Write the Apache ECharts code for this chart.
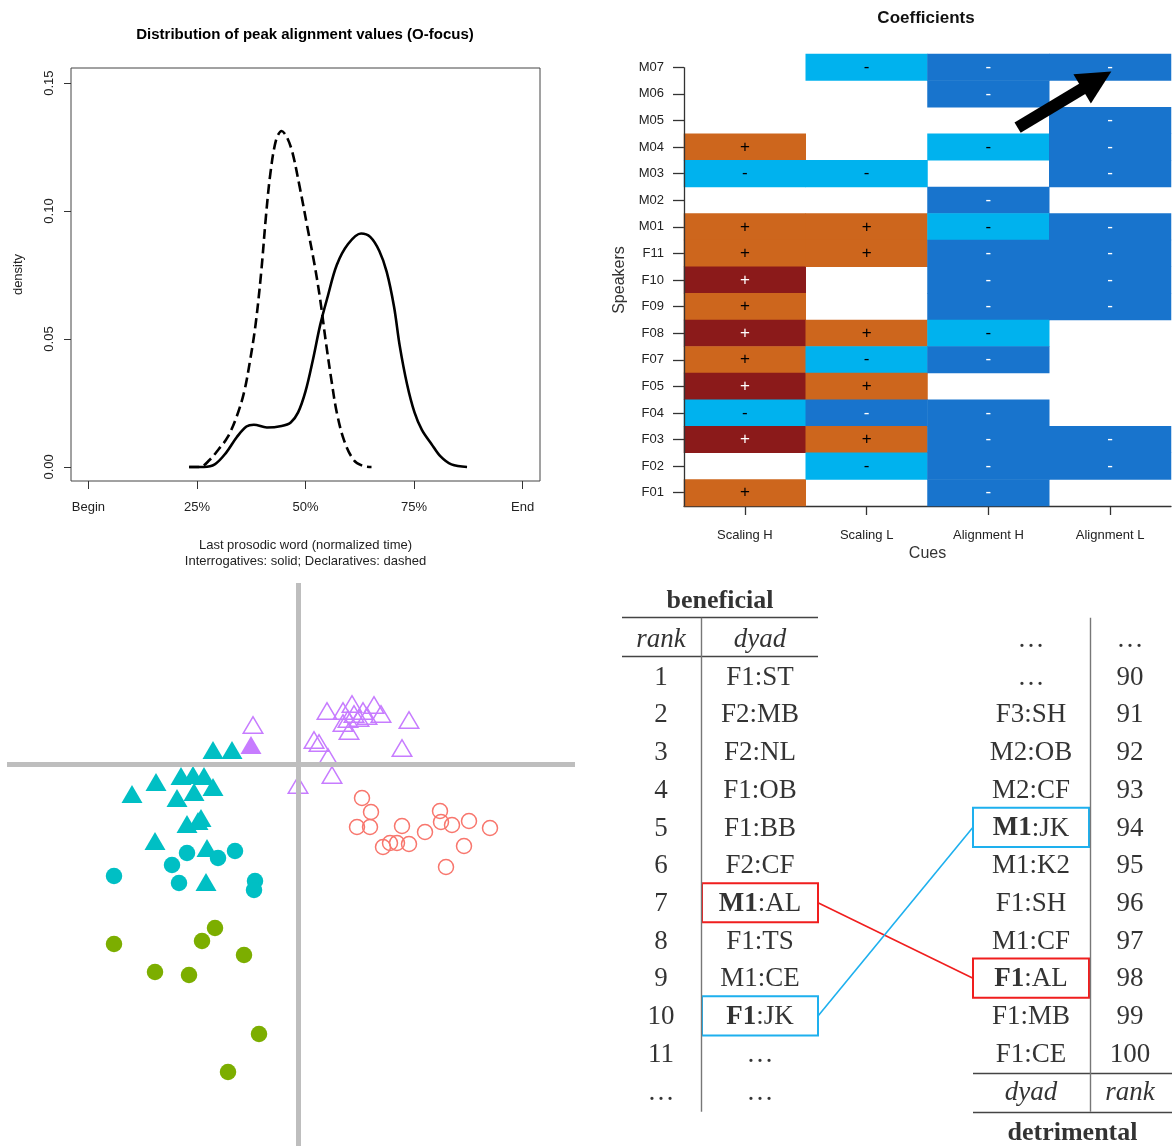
<!DOCTYPE html>
<html><head><meta charset="utf-8">
<script src="https://cdn.jsdelivr.net/npm/echarts@6/dist/echarts.min.js"></script>
<style>html,body{margin:0;padding:0;background:#fff}#c{width:1172px;height:1146px}</style>
</head><body><div id="c"></div>
<script>
// ================= DATA =================
// --- Panel A: density of peak alignment (x: % of last prosodic word, y: density)
const xTickValues = [0, 25, 50, 75, 100];
const xTickLabels = ['Begin', '25%', '50%', '75%', 'End'];
const yTickValues = [0, 0.05, 0.10, 0.15];
const interrogatives = [[23.2,0],[26.6,0],[29.1,0.001],[31.7,0.0055],[34.2,0.0117],[36.4,0.0158],[38.1,0.0165],[41.1,0.0154],[44.5,0.016],[46.6,0.0174],[48.3,0.0213],[50.0,0.0295],[51.7,0.0418],[53.4,0.0556],[55.1,0.0665],[57.2,0.0789],[59.8,0.0871],[62.8,0.0912],[64.9,0.0899],[67.0,0.0844],[68.7,0.0762],[70.4,0.0625],[71.7,0.0473],[73.4,0.0322],[75.1,0.0213],[76.8,0.0145],[79.0,0.009],[81.1,0.0041],[83.6,0.001],[87.2,0]];
const declaratives = [[23.2,0],[25.7,0],[27.9,0.0027],[30.0,0.0069],[32.1,0.0117],[34.2,0.0199],[35.9,0.0295],[37.2,0.0412],[38.5,0.0556],[39.8,0.0761],[40.9,0.0981],[41.9,0.1145],[43.2,0.1276],[44.5,0.1313],[45.7,0.1289],[47.0,0.1228],[48.7,0.1091],[50.4,0.094],[52.1,0.0789],[53.4,0.0652],[54.7,0.0487],[56.0,0.0336],[57.2,0.0213],[58.9,0.0103],[61.1,0.0027],[63.2,0.0004],[65.2,0]];

// --- Panel B: coefficient classes (-2 strong neg, -1 neg, 0 none, 1 pos, 2 strong pos)
const speakers = ['M07','M06','M05','M04','M03','M02','M01','F11','F10','F09','F08','F07','F05','F04','F03','F02','F01'];
const cues = ['Scaling H','Scaling L','Alignment H','Alignment L'];
const scalingH   = [0,0,0,1,-1,0,1,1,2,1,2,1,2,-1,2,0,1];
const scalingL   = [-1,0,0,0,-1,0,1,1,0,0,1,-1,1,-2,1,-1,0];
const alignmentH = [-2,-2,0,-1,0,-2,-1,-2,-2,-2,-1,-2,0,-2,-2,-2,-2];
const alignmentL = [-2,0,-2,-2,-2,0,-2,-2,-2,-2,0,0,0,0,-2,-2,0];
const arrowFromTo = [[2.24, 2.27], [2.89, 0.485]]; // (cue index, speaker index)

// --- Panel C: two-dimensional map (Dim1, Dim2)
const purpleOpenTri = [[-0.45,0.39],[0.00,-0.21],[0.29,0.53],[0.45,0.53],[0.54,0.60],[0.65,0.53],[0.76,0.59],[0.83,0.50],[0.45,0.41],[0.51,0.33],[0.56,0.50],[0.61,0.46],[0.69,0.48],[0.50,0.45],[1.11,0.44],[0.16,0.24],[0.21,0.21],[0.30,0.07],[1.04,0.16],[0.34,-0.11]];
const purpleFilledTri = [[-0.47,0.19]];
const tealTri = [[-0.85,0.14],[-0.66,0.14],[-1.17,-0.12],[-1.05,-0.11],[-0.94,-0.12],[-0.85,-0.23],[-1.42,-0.18],[-1.66,-0.30],[-1.21,-0.34],[-1.04,-0.28],[-1.11,-0.60],[-0.97,-0.54],[-1.00,-0.57],[-1.43,-0.77],[-0.91,-0.84],[-0.92,-1.18]];
const tealCircle = [[-1.11,-0.89],[-1.26,-1.01],[-0.80,-0.94],[-0.63,-0.87],[-1.84,-1.12],[-1.19,-1.19],[-0.43,-1.17],[-0.44,-1.26]];
const greenCircle = [[-0.83,-1.64],[-0.96,-1.77],[-1.84,-1.80],[-0.54,-1.91],[-1.43,-2.08],[-1.09,-2.11],[-0.39,-2.70],[-0.70,-3.08]];
const redOpenCircle = [[0.64,-0.34],[0.73,-0.48],[0.59,-0.63],[0.72,-0.63],[1.04,-0.62],[1.27,-0.68],[1.42,-0.47],[1.43,-0.58],[1.54,-0.61],[1.71,-0.57],[1.92,-0.64],[0.85,-0.83],[0.92,-0.79],[0.99,-0.79],[1.11,-0.80],[1.66,-0.82],[1.48,-1.03]];

// --- Panel D: ranked dyads
const benRanks = ['1','2','3','4','5','6','7','8','9','10','11','…'];
const benDyads = ['F1:ST','F2:MB','F2:NL','F1:OB','F1:BB','F2:CF','M1:AL','F1:TS','M1:CE','F1:JK','…','…'];
const detDyads = ['…','…','F3:SH','M2:OB','M2:CF','M1:JK','M1:K2','F1:SH','M1:CF','F1:AL','F1:MB','F1:CE'];
const detRanks = ['…','90','91','92','93','94','95','96','97','98','99','100'];
const links = [{from:'M1:AL', to:'F1:AL', color:'#F01E1E'}, {from:'F1:JK', to:'M1:JK', color:'#1EB0EE'}];

// ================= LAYOUT / STYLE =================
const SANS = '"Liberation Sans", Arial, sans-serif';
const SERIF = '"Liberation Serif", "Times New Roman", serif';
const heatColors = {'-2':'#1874CD','-1':'#00B2EE','1':'#CD661D','2':'#8B1A1A'};
// table layout (x in px from panel left, y in row units)
const COL = {lRank:61, lDyad:160, rDyad:431, rRank:530};
const BOX_HALF_W = 58, BOX_UP = 0.55, BOX_DOWN = 0.49;
const RULE = {top:-1.585, head:-0.551, foot1:10.49, foot2:11.51, lStart:22, lEnd:218, rStart:373, rEnd:572, lDiv:101, rDiv:490};

// ================= BUILD =================
const cueValues = [scalingH, scalingL, alignmentH, alignmentL];
const heatData = [];
cueValues.forEach((col, ci) => col.forEach((v, si) => { if (v !== 0) heatData.push([ci, si, v]); }));

function dyadText(d, bold) {
  if (!bold) return '{n|' + d + '}';
  const k = d.indexOf(':');
  return '{b|' + d.slice(0, k) + '}{n|' + d.slice(k) + '}';
}
const highlighted = new Set();
links.forEach(l => { highlighted.add('L' + l.from); highlighted.add('R' + l.to); });
const tableItems = [];
tableItems.push({value:[(RULE.lStart + RULE.lEnd) / 2, -2.01], t:'{h|beneficial}'});
tableItems.push({value:[COL.lRank, -1], t:'{i|rank}'});
tableItems.push({value:[COL.lDyad, -1], t:'{i|dyad}'});
benRanks.forEach((r, i) => tableItems.push({value:[COL.lRank, i], t:'{n|' + r + '}'}));
benDyads.forEach((d, i) => tableItems.push({value:[COL.lDyad, i], t:dyadText(d, highlighted.has('L' + d))}));
detDyads.forEach((d, i) => tableItems.push({value:[COL.rDyad, i - 1], t:dyadText(d, highlighted.has('R' + d))}));
detRanks.forEach((r, i) => tableItems.push({value:[COL.rRank, i - 1], t:'{n|' + r + '}'}));
tableItems.push({value:[COL.rDyad, 11.02], t:'{i|dyad}'});
tableItems.push({value:[COL.rRank, 11.02], t:'{i|rank}'});
tableItems.push({value:[(RULE.rStart + RULE.rEnd) / 2, 12.08], t:'{h|detrimental}'});

const boxes = [], linkLines = [];
links.forEach(l => {
  const rl = benDyads.indexOf(l.from), rr = detDyads.indexOf(l.to) - 1;
  boxes.push([{coord:[COL.lDyad - BOX_HALF_W, rl - BOX_UP], itemStyle:{borderColor:l.color}}, {coord:[COL.lDyad + BOX_HALF_W, rl + BOX_DOWN]}]);
  boxes.push([{coord:[COL.rDyad - BOX_HALF_W, rr - BOX_UP], itemStyle:{borderColor:l.color}}, {coord:[COL.rDyad + BOX_HALF_W, rr + BOX_DOWN]}]);
  const mid = (BOX_DOWN - BOX_UP) / 2;
  linkLines.push([{coord:[COL.lDyad + BOX_HALF_W, rl + mid], lineStyle:{color:l.color, width:1.6}}, {coord:[COL.rDyad - BOX_HALF_W, rr + mid]}]);
});
const ruleLines = [
  [{coord:[RULE.lStart, RULE.top]}, {coord:[RULE.lEnd, RULE.top]}],
  [{coord:[RULE.lStart, RULE.head]}, {coord:[RULE.lEnd, RULE.head]}],
  [{coord:[RULE.rStart, RULE.foot1]}, {coord:[RULE.rEnd, RULE.foot1]}],
  [{coord:[RULE.rStart, RULE.foot2]}, {coord:[RULE.rEnd, RULE.foot2]}],
  [{coord:[RULE.lDiv, RULE.top], lineStyle:{color:'#777'}}, {coord:[RULE.lDiv, RULE.foot2]}],
  [{coord:[RULE.rDiv, RULE.top], lineStyle:{color:'#777'}}, {coord:[RULE.rDiv, RULE.foot2]}]
];

const hidden = {axisLine:{show:false, onZero:false}, axisTick:{show:false}, axisLabel:{show:false}, splitLine:{show:false}};

const option = {
  animation: false,
  textStyle: {fontFamily: SANS},
  graphic: [
    {type:'text', x:305, y:35, style:{text:'Distribution of peak alignment values (O-focus)', font:'bold 15px ' + SANS, align:'center', verticalAlign:'middle', fill:'#000'}},
    {type:'text', x:926, y:18, style:{text:'Coefficients', font:'bold 17px ' + SANS, align:'center', verticalAlign:'middle', fill:'#111'}}
  ],
  grid: [
    {left:71, top:68, width:469, height:413, show:true, borderColor:'#444', borderWidth:1, backgroundColor:'transparent', outerBoundsMode:'none'},
    {left:684, top:54, width:487, height:452, outerBoundsMode:'none'},
    {left:7, top:583, width:568, height:563, outerBoundsMode:'none'},
    {left:600, top:580, width:572, height:566, outerBoundsMode:'none'}
  ],
  xAxis: [
    {gridIndex:0, type:'value', min:-4, max:104, position:'bottom', axisLine:{show:false, onZero:false}, splitLine:{show:false},
     axisTick:{show:true, customValues:xTickValues, length:8, lineStyle:{color:'#333'}},
     axisLabel:{customValues:xTickValues, formatter:v => xTickLabels[xTickValues.indexOf(v)], fontSize:13, color:'#222', margin:20},
     name:'Last prosodic word (normalized time)\nInterrogatives: solid; Declaratives: dashed', nameLocation:'middle', nameGap:56,
     nameTextStyle:{fontSize:13, lineHeight:16, color:'#222'}},
    {gridIndex:1, type:'category', data:cues, position:'bottom',
     axisLine:{show:true, onZero:false, lineStyle:{color:'#333', width:1.3}},
     axisTick:{show:true, alignWithLabel:true, interval:0, length:9, lineStyle:{color:'#333', width:1.3}},
     axisLabel:{interval:0, fontSize:13, color:'#222', margin:23},
     name:'Cues', nameLocation:'middle', nameGap:40, nameTextStyle:{fontSize:16, color:'#333'}},
    Object.assign({gridIndex:1, type:'value', min:-0.5, max:3.5, position:'top'}, hidden),
    Object.assign({gridIndex:2, type:'value', min:-2.91, max:2.77}, hidden),
    Object.assign({gridIndex:3, type:'value', min:0, max:572}, hidden)
  ],
  yAxis: [
    {gridIndex:0, type:'value', min:-0.0055, max:0.1559, position:'left', axisLine:{show:false, onZero:false}, splitLine:{show:false},
     axisTick:{show:true, customValues:yTickValues, length:7, lineStyle:{color:'#333'}},
     axisLabel:{customValues:yTickValues, formatter:v => v.toFixed(2), rotate:90, fontSize:13, color:'#222', margin:15},
     name:'density', nameLocation:'middle', nameGap:46, nameTextStyle:{fontSize:13, color:'#222'}},
    {gridIndex:1, type:'category', data:speakers, inverse:true, position:'left',
     axisLine:{show:false, onZero:false},
     axisTick:{show:true, alignWithLabel:true, interval:0, length:11, lineStyle:{color:'#333', width:1.3}},
     axisLabel:{interval:0, fontSize:13, color:'#222', margin:20},
     name:'Speakers', nameLocation:'middle', nameGap:56, nameTextStyle:{fontSize:16, color:'#333'}},
    Object.assign({gridIndex:1, type:'value', min:-0.5, max:16.5, inverse:true, position:'right'}, hidden),
    Object.assign({gridIndex:2, type:'value', min:-3.82, max:1.81}, hidden),
    Object.assign({gridIndex:3, type:'value', min:-2.584, max:12.417, inverse:true}, hidden)
  ],
  visualMap: [{type:'piecewise', show:false, seriesIndex:2, dimension:2,
    pieces:[{value:-2, color:heatColors['-2']}, {value:-1, color:heatColors['-1']}, {value:1, color:heatColors['1']}, {value:2, color:heatColors['2']}]}],
  series: [
    {type:'line', xAxisIndex:0, yAxisIndex:0, data:interrogatives, showSymbol:false, symbol:'none', smooth:0.35, silent:true,
     lineStyle:{color:'#000', width:2.6}},
    {type:'line', xAxisIndex:0, yAxisIndex:0, data:declaratives, showSymbol:false, symbol:'none', smooth:0.35, silent:true,
     lineStyle:{color:'#000', width:2.6, type:[10,5]}},
    {type:'heatmap', xAxisIndex:1, yAxisIndex:1, data:heatData, silent:true, emphasis:{disabled:true},
     label:{show:true, formatter:p => {const v = p.value[2]; const s = v > 0 ? '+' : '-'; return Math.abs(v) === 2 ? '{w|' + s + '}' : '{k|' + s + '}';},
       rich:{w:{color:'#fff', fontSize:17, fontFamily:SANS}, k:{color:'#000', fontSize:17, fontFamily:SANS}}}},
    {type:'scatter', xAxisIndex:2, yAxisIndex:2, data:[], silent:true,
     markLine:{silent:true, animation:false, label:{show:false}, symbol:['none','none'], lineStyle:{type:'solid'},
       data:[
         [{coord:[-0.5, 0], lineStyle:{color:'#333', width:1.3}}, {coord:[-0.5, 16.5]}],
         [{coord:arrowFromTo[0], symbol:'none', lineStyle:{color:'#000', width:12, cap:'butt'}}, {coord:arrowFromTo[1], symbol:'triangle', symbolSize:34}]
       ]}},
    {type:'scatter', xAxisIndex:3, yAxisIndex:3, data:[], silent:true, z:1,
     markLine:{silent:true, animation:false, label:{show:false}, symbol:['none','none'],
       lineStyle:{type:'solid', color:'#BEBEBE', width:5}, data:[{xAxis:0}, {yAxis:0}]}},
    {type:'scatter', xAxisIndex:3, yAxisIndex:3, data:purpleOpenTri, symbol:'triangle', symbolSize:[19.5,16.5], silent:true, z:3,
     itemStyle:{color:'rgba(0,0,0,0)', borderColor:'#C77CFF', borderWidth:1.5, opacity:1}},
    {type:'scatter', xAxisIndex:3, yAxisIndex:3, data:purpleFilledTri, symbol:'triangle', symbolSize:[21,18], silent:true, z:3,
     itemStyle:{color:'#C77CFF', opacity:1}},
    {type:'scatter', xAxisIndex:3, yAxisIndex:3, data:tealTri, symbol:'triangle', symbolSize:[21,18], silent:true, z:3,
     itemStyle:{color:'#00BFC4', opacity:1}},
    {type:'scatter', xAxisIndex:3, yAxisIndex:3, data:tealCircle, symbol:'circle', symbolSize:16.5, silent:true, z:3,
     itemStyle:{color:'#00BFC4', opacity:1}},
    {type:'scatter', xAxisIndex:3, yAxisIndex:3, data:greenCircle, symbol:'circle', symbolSize:16.5, silent:true, z:3,
     itemStyle:{color:'#7CAE00', opacity:1}},
    {type:'scatter', xAxisIndex:3, yAxisIndex:3, data:redOpenCircle, symbol:'circle', symbolSize:15, silent:true, z:3,
     itemStyle:{color:'rgba(0,0,0,0)', borderColor:'#F8766D', borderWidth:1.5, opacity:1}},
    {type:'scatter', xAxisIndex:4, yAxisIndex:4, data:tableItems, symbolSize:1, silent:true,
     itemStyle:{color:'rgba(0,0,0,0)'},
     label:{show:true, position:'inside', formatter:p => p.data.t,
       rich:{
         n:{fontFamily:SERIF, fontSize:27, color:'#000'},
         b:{fontFamily:SERIF, fontSize:27, fontWeight:'bold', color:'#000'},
         i:{fontFamily:SERIF, fontSize:27, fontStyle:'italic', color:'#000'},
         h:{fontFamily:SERIF, fontSize:26, fontWeight:'bold', color:'#000'}
       }},
     markLine:{silent:true, animation:false, label:{show:false}, symbol:['none','none'],
       lineStyle:{type:'solid', color:'#444', width:1.4}, data:ruleLines.concat(linkLines)},
     markArea:{silent:true, label:{show:false}, itemStyle:{color:'rgba(0,0,0,0)', borderWidth:2}, data:boxes}}
  ]
};
const chart = echarts.init(document.getElementById('c'), null, {renderer:'canvas', width:1172, height:1146});
chart.setOption(option);
</script></body></html>
